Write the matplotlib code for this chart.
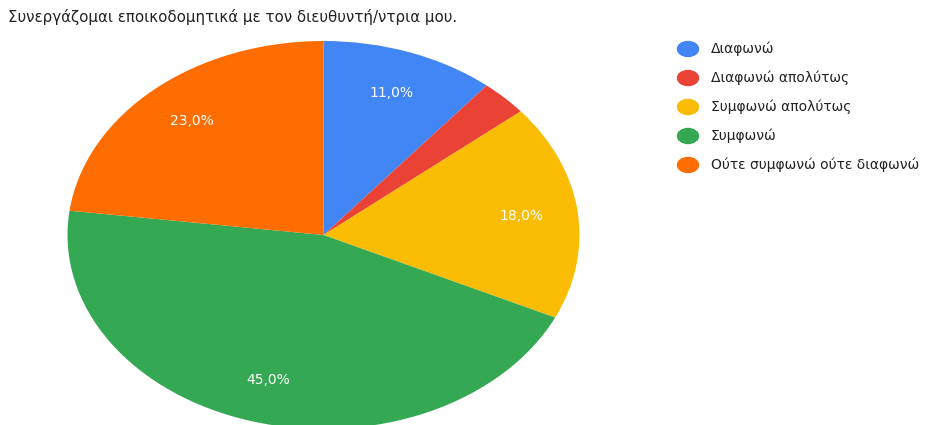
import matplotlib
matplotlib.use("Agg")
import matplotlib.pyplot as plt
from matplotlib.patches import Ellipse

title = "Συνεργάζομαι εποικοδομητικά με τον διευθυντή/ντρια μου."
categories = ["Διαφωνώ", "Διαφωνώ απολύτως", "Συμφωνώ απολύτως", "Συμφωνώ",
              "Ούτε συμφωνώ ούτε διαφωνώ"]
values = [11.0, 3.0, 18.0, 45.0, 23.0]
colors = ["#4285F4", "#EA4335", "#FBBC04", "#34A853", "#FF6D01"]

W, H = 936, 425
fig = plt.figure(figsize=(W / 100, H / 100), dpi=100)
fig.patch.set_facecolor("white")

# pie axes: horizontally stretched ellipse
cx, cy, rx, ry = 323.5, 235, 256, 194
ax = fig.add_axes([(cx - rx) / W, (H - cy - ry) / H, 2 * rx / W, 2 * ry / H])


def fmt(p):
    return f"{p:.1f}%".replace(".", ",") if p >= 5 else ""


wedges, texts, autotexts = ax.pie(
    values, colors=colors, startangle=90, counterclock=False,
    autopct=fmt, pctdistance=0.78, radius=1.0,
    wedgeprops=dict(linewidth=0),
    textprops=dict(color="white", fontsize=10),
)
ax.set_aspect("auto")
ax.set_xlim(-1, 1)
ax.set_ylim(-1, 1)
ax.axis("off")

fig.text(8 / W, 1 - 17 / H, title, fontsize=10.8, color="#222222",
         ha="left", va="center")

# legend
y0, dy = 49, 29
for i, (lab, col) in enumerate(zip(categories, colors)):
    y = 1 - (y0 + i * dy) / H
    fig.patches.append(Ellipse((688 / W, y), 21 / W, 15 / H, color=col,
                               transform=fig.transFigure, figure=fig))
    fig.text(711 / W, y, lab, fontsize=10, color="#222222",
             ha="left", va="center")

fig.savefig("out.png", dpi=100, facecolor="white")
